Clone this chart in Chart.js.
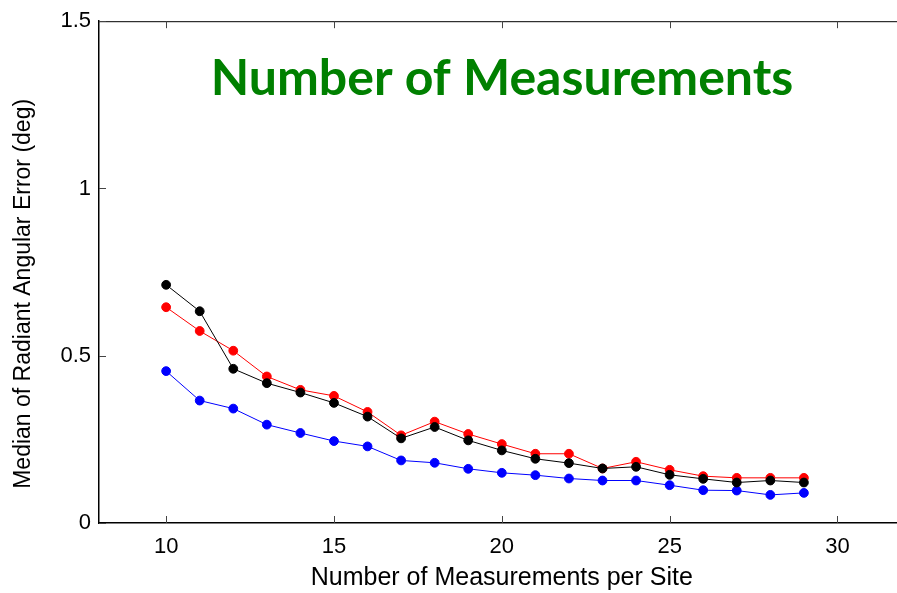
<!DOCTYPE html>
<html>
<head>
<meta charset="utf-8">
<script src="https://cdn.jsdelivr.net/npm/chart.js@4"></script>
<style>
  html, body { margin: 0; padding: 0; background: #fff; overflow: hidden; }
  #wrap { width: 910px; height: 593px; }
</style>
</head>
<body>
<div id="wrap"><canvas id="myChart" width="910" height="593"></canvas></div>
<script>
// measurements per site
var sites = [10, 11, 12, 13, 14, 15, 16, 17, 18, 19, 20, 21, 22, 23, 24, 25, 26, 27, 28, 29];
// median radiant angular error (deg)
var blackErr = [0.712, 0.633, 0.461, 0.418, 0.390, 0.359, 0.318, 0.253, 0.287, 0.247, 0.217, 0.192, 0.179, 0.163, 0.168, 0.144, 0.132, 0.121, 0.127, 0.121];
var redErr = [0.645, 0.574, 0.515, 0.438, 0.398, 0.380, 0.332, 0.262, 0.303, 0.266, 0.236, 0.207, 0.207, 0.163, 0.183, 0.159, 0.140, 0.135, 0.135, 0.135];
var blueErr = [0.454, 0.366, 0.342, 0.294, 0.269, 0.245, 0.229, 0.187, 0.180, 0.162, 0.150, 0.143, 0.133, 0.127, 0.127, 0.113, 0.098, 0.097, 0.084, 0.090];
var xTicks = [10, 15, 20, 25, 30];
var yTicks = [0, 0.5, 1, 1.5];

var labelFont = '"Liberation Sans", Arial';

function pts(arr) {
    return arr.map(function (v, i) { return { x: sites[i], y: v }; });
}

function series(arr, color, order) {
    return {
        data: pts(arr),
        borderColor: color,
        backgroundColor: color,
        pointBackgroundColor: color,
        pointBorderColor: color,
        pointRadius: 4.4,
        pointHoverRadius: 4.4,
        borderWidth: 1,
        tension: 0,
        order: order
    };
}

// matlab style box with inward ticks, plot title and y label
var boxPlugin = {
    id: 'box',
    afterDraw: function (chart) {
        var ctx = chart.ctx;
        var a = chart.chartArea;
        var xs = chart.scales.x, ys = chart.scales.y;
        ctx.save();
        ctx.strokeStyle = '#000';
        ctx.lineWidth = 1;
        ctx.beginPath();
        ctx.moveTo(a.left, a.top + 0.5);
        ctx.lineTo(a.right, a.top + 0.5);
        ctx.lineTo(a.right, a.bottom);
        ctx.stroke();
        ctx.strokeStyle = '#444';
        ctx.beginPath();
        xTicks.forEach(function (t) {
            var px = Math.round(xs.getPixelForValue(t)) + 0.5;
            ctx.moveTo(px, a.bottom); ctx.lineTo(px, a.bottom - 7);
            ctx.moveTo(px, a.top); ctx.lineTo(px, a.top + 7);
        });
        yTicks.forEach(function (t) {
            var py = Math.round(ys.getPixelForValue(t)) + 0.5;
            ctx.moveTo(a.left, py); ctx.lineTo(a.left + 7, py);
            ctx.moveTo(a.right, py); ctx.lineTo(a.right - 7, py);
        });
        ctx.stroke();

        ctx.fillStyle = '#008000';
        ctx.font = 'bold 50px Lato, "Open Sans", sans-serif';
        ctx.textAlign = 'center';
        ctx.textBaseline = 'middle';
        ctx.fillText('Number of Measurements', a.left + 403, a.top + 58);

        // y label sits a bit below the axis centre
        ctx.fillStyle = '#000';
        ctx.font = '23px ' + labelFont;
        ctx.translate(24, ys.getPixelForValue(0.685));
        ctx.rotate(-Math.PI / 2);
        ctx.fillText('Median of Radiant Angular Error (deg)', 0, 0);
        ctx.restore();
    }
};

var ctx = document.getElementById('myChart');
new Chart(ctx, {
    type: 'line',
    data: {
        datasets: [
            series(blackErr, '#000000', 1),
            series(redErr, '#ff0000', 2),
            series(blueErr, '#0000ff', 3)
        ]
    },
    options: {
        responsive: false,
        animation: false,
        layout: { padding: { top: 20, right: 5, bottom: 0, left: 0 } },
        plugins: { legend: { display: false }, tooltip: { enabled: false } },
        scales: {
            x: {
                type: 'linear',
                min: 8,
                max: 32,
                afterBuildTicks: function (s) { s.ticks = xTicks.map(function (v) { return { value: v }; }); },
                afterFit: function (s) { s.height = 70; },
                grid: { display: false, drawTicks: false },
                border: { display: true, color: '#000', width: 1.5 },
                ticks: {
                    color: '#000',
                    padding: 11,
                    font: { family: labelFont, size: 22 },
                    callback: function (v) { return String(v); }
                },
                title: {
                    display: true,
                    text: 'Number of Measurements per Site',
                    color: '#000',
                    padding: { top: 0, bottom: 0 },
                    font: { family: labelFont, size: 25 }
                }
            },
            y: {
                min: 0,
                max: 1.5,
                afterBuildTicks: function (s) { s.ticks = yTicks.map(function (v) { return { value: v }; }); },
                afterFit: function (s) { s.width = 99; },
                grid: { display: false, drawTicks: false },
                border: { display: true, color: '#000', width: 1.5 },
                ticks: {
                    color: '#000',
                    padding: 8,
                    font: { family: labelFont, size: 22 },
                    callback: function (v) { return String(v); }
                },
                title: { display: false }
            }
        }
    },
    plugins: [boxPlugin]
});
</script>
</body>
</html>
